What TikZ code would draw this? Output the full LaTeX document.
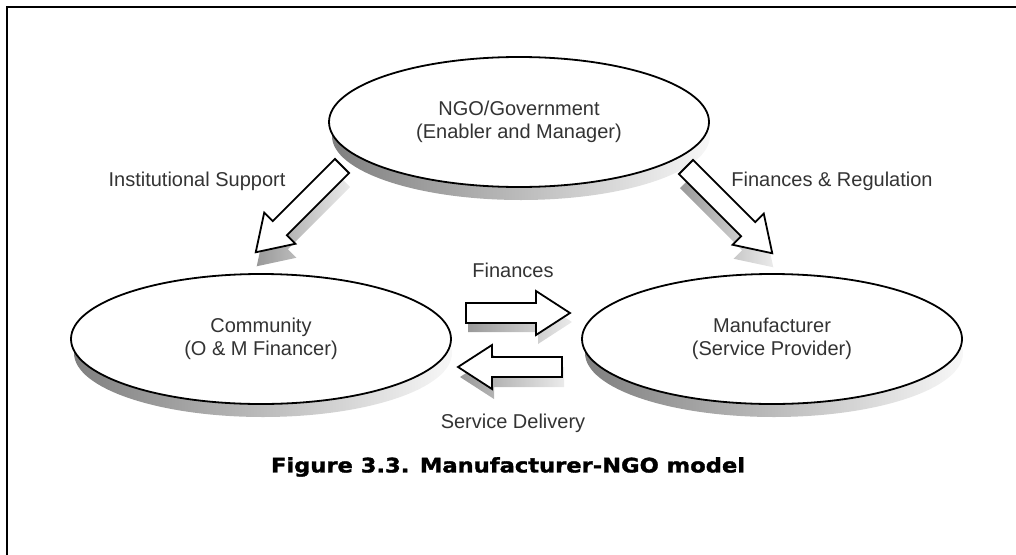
\documentclass[tikz,border=0pt]{standalone}
\usepackage{fontspec}
\setmainfont{Liberation Sans}
\newfontfamily\capfont[FakeStretch=1.13,FakeBold=1.6]{DejaVu Sans Bold}
\usetikzlibrary{shapes.geometric,calc}
\tikzset{
  lbl/.style={font=\fontsize{20}{23}\selectfont, text=black!80, align=center, inner sep=0},
  disk/.style={ellipse, draw=black, line width=1.8pt, fill=white, minimum width=380pt, minimum height=130pt, inner sep=0,
               font=\fontsize{20}{23}\selectfont, text=black!80, align=center},
  diskshadow/.style={left color=black!50, right color=black!3},
  arrowline/.style={draw=black, line width=1.8pt, fill=white, line join=miter},
  arrowshadow/.style={left color=black!40, right color=black!8},
  pics/barrow/.style={code={
    \path[arrowline] (0,-10) -- (#1-34,-10) -- (#1-34,-22) -- (#1,0) -- (#1-34,22) -- (#1-34,10) -- (0,10) -- cycle;}},
  pics/bshadow/.style={code={
    \shade[arrowshadow] (0,-10) -- (#1-34,-10) -- (#1-34,-22) -- (#1,0) -- (#1-34,22) -- (#1-34,10) -- (0,10) -- cycle;}}
}
\begin{document}
\begin{tikzpicture}[x=1pt,y=-1pt]
\useasboundingbox (0,0) rectangle (1016,554);
% frame
\draw[line width=2.3pt] (7,560) -- (7,7) -- (1020,7);

% centres
\coordinate (cngo) at (519,122);
\coordinate (ccom) at (261,339);
\coordinate (cman) at (772,339);

% ellipse shadows
\shade[diskshadow] ($(cngo)+(2,14)$) ellipse [x radius=189, y radius=64];
\shade[diskshadow] ($(ccom)+(2,14)$) ellipse [x radius=189, y radius=64];
\shade[diskshadow] ($(cman)+(2,14)$) ellipse [x radius=189, y radius=64];

% ellipses
\node[disk] (ngo) at (cngo) {NGO/Government\\(Enabler and Manager)};
\node[disk] (com) at (ccom) {Community\\(O \& M Financer)};
\node[disk] (man) at (cman) {Manufacturer\\(Service Provider)};

% arrow tails
\coordinate (tis) at (342,166);
\coordinate (tfr) at (686,167);
\coordinate (tfi) at (466,313);
\coordinate (tsd) at (562,367);

% arrow shadows
\pic[rotate=-135] at ($(tis)+(1,14)$) {bshadow=122};
\pic[rotate=-45]  at ($(tfr)+(1,14)$) {bshadow=122};
\pic at ($(tfi)+(2,9)$) {bshadow=104};
\pic[rotate=180] at ($(tsd)+(2,10)$) {bshadow=104};

% arrows
\pic[rotate=-135] at (tis) {barrow=122};
\pic[rotate=-45]  at (tfr) {barrow=122};
\pic at (tfi) {barrow=104};
\pic[rotate=180] at (tsd) {barrow=104};

% labels
\node[lbl] (lis) at (197,181) {Institutional Support};
\node[lbl] (lfr) at (832,181) {Finances \& Regulation};
\node[lbl] (lfi) at (513,270) {Finances};
\node[lbl] (lsd) at (513,423) {Service Delivery};

% caption
\node[inner sep=0, font=\capfont\fontsize{20}{22}\selectfont] (cap) at (508,467) {Figure 3.3. Manufacturer-NGO model};
\end{tikzpicture}
\end{document}
